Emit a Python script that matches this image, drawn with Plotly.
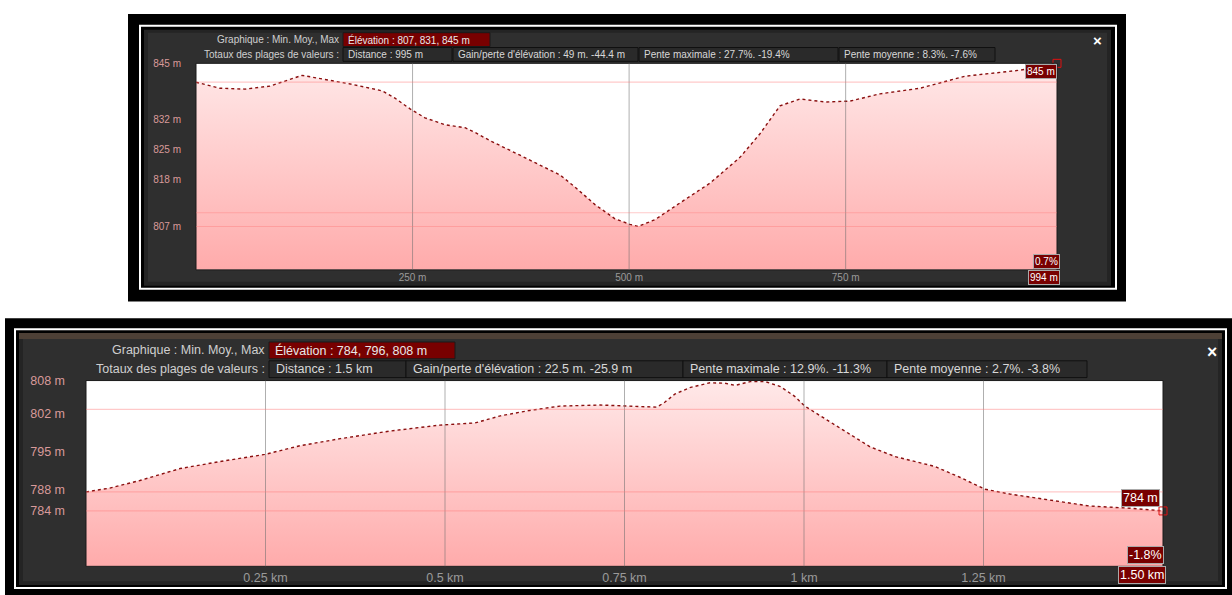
import plotly.graph_objects as go

W, H = 1232, 595

# ---- data ----
# top profile: distance (m) / elevation (m)
top_dist = [0, 27.7, 56.6, 85.4, 122.4, 143.2, 177.8, 214.7, 229.7, 247.1, 264.4, 287.5,
            310.6, 322.1, 339.4, 374.0, 420.2, 437.5, 460.6, 483.7, 501.0, 510.3, 529.9,
            558.8, 593.4, 628.0, 651.1, 674.2, 697.3, 726.2, 755.0, 789.7, 835.8, 887.8,
            951.3, 994]
top_elev = [840.6, 839.2, 839.0, 839.7, 842.2, 841.5, 840.2, 838.6, 836.9, 834.4, 832.3, 830.7,
            830.0, 828.9, 827.0, 823.6, 819.0, 816.2, 812.1, 808.8, 807.5, 807.0, 808.6,
            812.5, 817.1, 823.1, 828.6, 835.1, 836.7, 836.0, 836.2, 837.9, 839.2, 842.0,
            843.4, 845.0]
top_yticks = [845, 832, 825, 818, 807]
top_xticks = [250, 500, 750]
top_xtext = ["250 m", "500 m", "750 m"]
top_hgrid = [840.6, 810.2, 807.0]

# bottom profile: distance (km) / elevation (m)
bot_dist = [0, 0.033, 0.075, 0.131, 0.187, 0.249, 0.298, 0.354, 0.423, 0.493, 0.542, 0.577,
            0.618, 0.660, 0.716, 0.772, 0.795, 0.806, 0.820, 0.841, 0.869, 0.890, 0.904,
            0.925, 0.946, 0.967, 0.987, 1.001, 1.036, 1.064, 1.092, 1.127, 1.182, 1.217,
            1.252, 1.287, 1.343, 1.398, 1.454, 1.5]
bot_elev = [787.5, 788.2, 789.6, 791.8, 793.1, 794.4, 796.0, 797.3, 798.7, 799.8, 800.2, 801.5,
            802.5, 803.3, 803.5, 803.3, 803.1, 804.0, 805.5, 806.7, 807.6, 807.5, 807.1,
            807.8, 807.8, 806.9, 805.1, 803.3, 800.4, 798.2, 795.8, 794.0, 792.2, 790.2,
            788.0, 787.1, 786.0, 784.9, 784.5, 784.0]
bot_yticks = [808, 802, 795, 788, 784]
bot_xticks = [0.25, 0.5, 0.75, 1.0, 1.25]
bot_xtext = ["0.25 km", "0.5 km", "0.75 km", "1 km", "1.25 km"]
bot_hgrid = [802.7, 787.5, 784.0]

top_header = ["Élévation : 807, 831, 845 m"]
top_totals = ["Distance : 995 m", "Gain/perte d'élévation : 49 m. -44.4 m",
              "Pente maximale : 27.7%. -19.4%", "Pente moyenne : 8.3%. -7.6%"]
bot_header = ["Élévation : 784, 796, 808 m"]
bot_totals = ["Distance : 1.5 km", "Gain/perte d'élévation : 22.5 m. -25.9 m",
              "Pente maximale : 12.9%. -11.3%", "Pente moyenne : 2.7%. -3.8%"]


def px(x):
    return x / W


def py(y):
    return 1 - y / H


FONT = "Liberation Sans, Arial, sans-serif"
shapes = []
annotations = []


def rect(x0, y0, x1, y1, fill=None, line=None, lw=1, layer="below"):
    shapes.append(dict(type="rect", xref="paper", yref="paper",
                       x0=px(x0), x1=px(x1), y0=py(y1), y1=py(y0),
                       fillcolor=fill or "rgba(0,0,0,0)",
                       line=dict(color=line or "rgba(0,0,0,0)", width=lw if line else 0),
                       layer=layer))


def text(x, y, s, size, color="#d8d8d8", anchor="left", **kw):
    annotations.append(dict(xref="paper", yref="paper", x=px(x), y=py(y), text=s,
                            showarrow=False, xanchor=anchor, yanchor="middle",
                            font=dict(family=FONT, size=size, color=color), **kw))


def panel(frame, white, body, plot, rows, boxes, fs, close_xy):
    rect(*frame, fill="#000000")
    rect(*white, line="#ffffff", lw=2)
    rect(*body, fill="#242424")
    # lighter inner area to mimic the panel's vignette
    bx0, by0, bx1, by1 = body
    rect(bx0 + 4, by0 + 3, bx1 - 4, by1 - 4, fill="#2f2f2f")
    rect(*plot, fill="#ffffff")
    # header rows
    (r1y0, r1y1), (r2y0, r2y1) = rows
    lab_right = boxes[0][0] - 2
    text(lab_right, (r1y0 + r1y1) / 2, "Graphique : Min. Moy., Max", fs, "#cfcfcf", "right")
    text(lab_right, (r2y0 + r2y1) / 2, "Totaux des plages de valeurs :", fs, "#cfcfcf", "right")
    hx0, hx1 = boxes[0]
    rect(hx0, r1y0, hx1, r1y1, fill="#780000", line="#1a1a1a")
    for (bx0, bx1) in boxes[1:]:
        rect(bx0, r2y0, bx1, r2y1, fill="#2a2a2a", line="#111111")
    text(close_xy[0], close_xy[1], "<b>×</b>", fs + 5, "#ffffff", "center")
    # plot frame
    rect(*plot, line="#1a1a1a", lw=1, layer="above")


# top panel
top_plot = (196, 57, 1057, 266)
top_boxes = [(343, 490), (343, 452), (453, 638), (639, 838), (839, 995)]
panel((128, 7, 1126, 298), (140, 19, 1116, 285), (144, 23, 1111, 282), top_plot,
      [(26, 40), (41, 55)], top_boxes, 10, (1097, 34))
text(top_boxes[0][0] + 3, 33, top_header[0], 10, "#e8e8e8")
for (bx0, bx1), s in zip(top_boxes[1:], top_totals):
    text(bx0 + 3, 48, s, 10)

# bottom panel
bot_plot = (86, 378, 1163, 566)
bot_boxes = [(269, 455), (269, 406), (406, 683), (683, 887), (887, 1087)]
panel((5, 315, 1232, 595), (15, 326, 1226, 588), (19, 330, 1222, 585), bot_plot,
      [(339, 356), (358, 375)], bot_boxes, 12.5, (1212, 349))
rect(19, 330, 1222, 336, fill="#4d4036")
text(bot_boxes[0][0] + 4, 347.5, bot_header[0], 12.5, "#e8e8e8")
for (bx0, bx1), s in zip(bot_boxes[1:], bot_totals):
    text(bx0 + 5, 366.5, s, 12.5)

fig = go.Figure()

top_range = [796.9, 845]
bot_range = [773.8, 808]

for dist, elev, xa, ya, rng in [(top_dist, top_elev, "x", "y", top_range),
                                (bot_dist, bot_elev, "x2", "y2", bot_range)]:
    fig.add_trace(go.Scatter(
        x=dist, y=elev, xaxis=xa, yaxis=ya, mode="lines", fill="tozeroy",
        line=dict(color="#8a0f0f", width=1.4, dash="dot"),
        fillgradient=dict(type="vertical", start=rng[0], stop=rng[1],
                          colorscale=[[0, "#ffaaaa"], [1, "#ffe9e9"]]),
        hoverinfo="skip", showlegend=False))
    fig.add_trace(go.Scatter(
        x=[dist[-1]], y=[elev[-1]], xaxis=xa, yaxis=ya, mode="markers",
        marker=dict(symbol="square-open", size=8, color="#e01010", line=dict(width=1)),
        cliponaxis=False, hoverinfo="skip", showlegend=False))

# grid lines drawn over the fill
for xs, xref, yref in [(top_xticks, "x", "y"), (bot_xticks, "x2", "y2")]:
    for v in xs:
        shapes.append(dict(type="line", xref=xref, yref=yref + " domain", x0=v, x1=v, y0=0, y1=1,
                           line=dict(color="rgba(110,110,110,0.55)", width=1), layer="above"))
for ys, xref, yref in [(top_hgrid, "x", "y"), (bot_hgrid, "x2", "y2")]:
    for v in ys:
        shapes.append(dict(type="line", xref=xref + " domain", yref=yref, x0=0, x1=1, y0=v, y1=v,
                           line=dict(color="rgba(255,120,120,0.4)", width=1.2), layer="above"))

# value tags
def tag(x, y, s, fs):
    text(x, y, s, fs, "#ffffff", "right", bgcolor="#780000", bordercolor="#aaaaaa",
         borderwidth=1, borderpad=1)


tag(1057, 65, f"{top_elev[-1]:.0f} m", 10)
tag(1060, 258, "0.7%", 10)
tag(1060, 273.5, f"{top_dist[-1]:.0f} m", 10)
tag(1160, 497, f"{bot_elev[-1]:.0f} m", 12.5)
tag(1164, 555, "-1.8%", 12.5)
tag(1166, 575, f"{bot_dist[-1]:.2f} km", 12.5)

axis_common = dict(showgrid=False, zeroline=False, showline=False, ticks="")
fig.update_layout(
    width=W, height=H, margin=dict(l=0, r=0, t=0, b=0),
    paper_bgcolor="#ffffff", plot_bgcolor="#ffffff",
    font=dict(family=FONT),
    shapes=shapes, annotations=annotations,
    xaxis=dict(domain=[px(top_plot[0]), px(top_plot[2])], range=[0, top_dist[-1]],
               tickvals=top_xticks, ticktext=top_xtext, anchor="y",
               tickfont=dict(size=10, color="#9a9a9a"), ticklabelstandoff=0, **axis_common),
    yaxis=dict(domain=[py(top_plot[3]), py(top_plot[1])], range=top_range,
               tickvals=top_yticks, ticktext=[f"{v} m" for v in top_yticks], anchor="x",
               tickfont=dict(size=10, color="#d99a9a"), ticklabelstandoff=14, **axis_common),
    xaxis2=dict(domain=[px(bot_plot[0]), px(bot_plot[2])], range=[0, bot_dist[-1]],
                tickvals=bot_xticks, ticktext=bot_xtext, anchor="y2",
                tickfont=dict(size=12.5, color="#9a9a9a"), ticklabelstandoff=2, **axis_common),
    yaxis2=dict(domain=[py(bot_plot[3]), py(bot_plot[1])], range=bot_range,
                tickvals=bot_yticks, ticktext=[f"{v} m" for v in bot_yticks], anchor="x2",
                tickfont=dict(size=12.5, color="#d99a9a"), ticklabelstandoff=20, **axis_common),
)

# the page body has a default 8px margin; drop it so the figure sits at the window origin
fig.write_html("out.html", config={"displayModeBar": False},
               post_script="document.body.style.margin='0px';")
